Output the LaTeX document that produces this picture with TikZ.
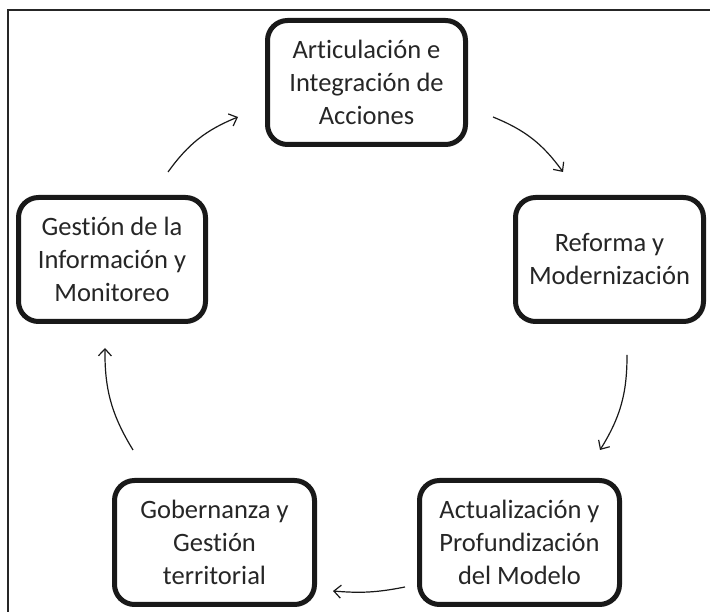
\documentclass[tikz,border=0pt]{standalone}
\usepackage{fontspec}
\setmainfont{Carlito}[Ligatures={NoCommon}]
\usepackage{tikz}
\usetikzlibrary{positioning,arrows.meta,shadows}
\tikzstyle{etapa} = [draw=black!90, line width=5pt, rounded corners=20pt, fill=white, align=center, text=black!85, font=\fontsize{26.5}{33}\selectfont, minimum height=124pt, inner sep=0pt, drop shadow={opacity=0.25, shadow xshift=2pt, shadow yshift=-2pt}]
\tikzstyle{flecha} = [line width=1.2pt, black!90, -{Straight Barb[length=7pt,width=13pt]}, bend left=16]
\tikzset{x=1pt, y=1pt}

\begin{document}
\begin{tikzpicture}
\useasboundingbox (0,0) rectangle (710,612);
\draw[line width=2pt, black!85] (8,-5) -- (8,602) -- (720,602);

\node[etapa, minimum width=198pt] (art) at (366.5,529.5) {Articulación e\\Integración de\\Acciones};
\node[etapa, minimum width=188pt, below right=48pt and 45pt of art] (ref) {Reforma y\\Modernización};
\node[etapa, minimum width=187pt, below left=48pt and 57pt of art] (ges) {Gestión de la\\Información y\\Monitoreo};

\node[etapa, minimum width=200pt] (gob) at (214.5,69.5) {Gobernanza y\\Gestión\\territorial};
\node[etapa, minimum width=200pt, right=100pt of gob] (act) {Actualización y\\Profundización\\del Modelo};

% ends of the cycle arrows
\coordinate (ini1) at (493,495);
\coordinate (fin1) at (563,440);
\coordinate (ini2) at (627,257);
\coordinate (fin2) at (600,162);
\coordinate (ini3) at (405,25);
\coordinate (fin3) at (333,21);
\coordinate (ini4) at (133,162);
\coordinate (fin4) at (105,264);
\coordinate (ini5) at (168,440);
\coordinate (fin5) at (238,495);

\draw[flecha] (ini1) to (fin1);
\draw[flecha] (ini2) to (fin2);
\draw[flecha, bend left=8] (ini3) to (fin3);
\draw[flecha] (ini4) to (fin4);
\draw[flecha] (ini5) to (fin5);
\end{tikzpicture}
\end{document}
